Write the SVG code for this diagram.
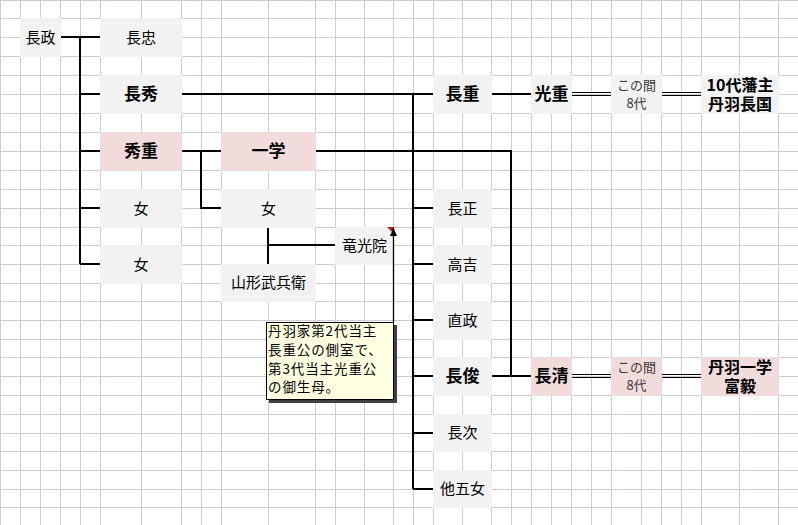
<svg xmlns="http://www.w3.org/2000/svg" width="798" height="525" viewBox="0 0 798 525">
<defs>
<style>
.grid{stroke:#cbced6;stroke-width:1;fill:none}
.box{fill:#f2f2f2}
.pink{fill:#f2dcdb}
.t{font-family:"Noto Sans CJK JP","Noto Sans CJK SC",sans-serif;font-size:15px;fill:#000;text-anchor:middle}
.b{font-family:"Noto Sans CJK JP","Noto Sans CJK SC",sans-serif;font-size:17px;font-weight:bold;fill:#000;text-anchor:middle}
.b2{font-family:"Noto Sans CJK JP","Noto Sans CJK SC",sans-serif;font-size:16px;font-weight:bold;fill:#000;text-anchor:middle}
.s{font-family:"Noto Sans CJK JP","Noto Sans CJK SC",sans-serif;font-size:13px;fill:#3a3a3a;text-anchor:middle}
.n{font-family:"Noto Sans CJK JP","Noto Sans CJK SC",sans-serif;font-size:13.5px;letter-spacing:0.9px;fill:#000}
.c{stroke:#000;stroke-width:2;fill:none}
.d{stroke:#000;stroke-width:1;fill:none}
</style>
<marker id="ah" viewBox="0 0 8 8" refX="8" refY="4" markerWidth="8" markerHeight="8" markerUnits="userSpaceOnUse" orient="auto">
<path d="M0,0.5 L8,4 L0,7.5 Z" fill="#000"/>
</marker>
</defs>
<rect x="0" y="0" width="798" height="525" fill="#fff"/>
<path class="grid" d="M0.5 0V525M20.5 0V525M40.5 0V525M60.5 0V525M80.5 0V525M100.5 0V525M141.5 0V525M181.5 0V525M201.5 0V525M221.5 0V525M268.5 0V525M315.5 0V525M335.5 0V525M364.5 0V525M393.5 0V525M413.5 0V525M433.5 0V525M462.5 0V525M491.5 0V525M511.5 0V525M531.5 0V525M551.5 0V525M571.5 0V525M591.5 0V525M611.5 0V525M641.5 0V525M661.5 0V525M681.5 0V525M701.5 0V525M739.5 0V525M778.5 0V525
M0 0.5H798M0 18.5H798M0 37.5H798M0 56.5H798M0 75.5H798M0 94.5H798M0 113.5H798M0 132.5H798M0 151.5H798M0 170.5H798M0 189.5H798M0 208.5H798M0 227.5H798M0 245.5H798M0 264.5H798M0 283.5H798M0 301.5H798M0 320.5H798M0 339.5H798M0 357.5H798M0 376.5H798M0 395.5H798M0 414.5H798M0 433.5H798M0 451.5H798M0 470.5H798M0 489.5H798M0 507.5H798"/>

<g id="connectors">
<path class="c" d="M60 37H100M80 37V264M80 94H100M80 151H100M80 208H100M80 264H100"/>
<path class="c" d="M181 94H433M413 94V489M413 208H433M413 264H433M413 320H433M413 376H433M413 433H433M413 489H433"/>
<path class="c" d="M181 151H221M201 151V208H221"/>
<path class="c" d="M315 151H511V376M491 376H531"/>
<path class="c" d="M491 94H531"/>
<path class="c" d="M268 227V264M268 245H335"/>
<path class="d" d="M571 92.5H611M571 95.5H611M661 92.5H701M661 95.5H701"/>
<path class="d" d="M571 374.5H611M571 377.5H611M661 374.5H701M661 377.5H701"/>
</g>

<g id="n-nagamasa"><rect class="box" x="20" y="18" width="41" height="39"/><text class="t" x="40.5" y="42.5">長政</text></g>
<g id="n-nagatada"><rect class="box" x="100" y="18" width="82" height="39"/><text class="t" x="141" y="42.5">長忠</text></g>
<g id="n-nagahide"><rect class="box" x="100" y="75" width="82" height="39"/><text class="b" x="141" y="100">長秀</text></g>
<g id="n-hideshige"><rect class="pink" x="100" y="132" width="82" height="39"/><text class="b" x="141" y="157">秀重</text></g>
<g id="n-onna1"><rect class="box" x="100" y="189" width="82" height="39"/><text class="t" x="141" y="213.5">女</text></g>
<g id="n-onna2"><rect class="box" x="100" y="245" width="82" height="39"/><text class="t" x="141" y="269.5">女</text></g>
<g id="n-ichigaku"><rect class="pink" x="221" y="132" width="95" height="39"/><text class="b" x="268.5" y="157">一学</text></g>
<g id="n-onna3"><rect class="box" x="221" y="189" width="95" height="39"/><text class="t" x="268.5" y="213.5">女</text></g>
<g id="n-yamagata"><rect class="box" x="221" y="264" width="95" height="38"/><text class="t" x="268.5" y="288">山形武兵衛</text></g>
<g id="n-ryukoin"><rect class="box" x="335" y="227" width="59" height="38"/><text class="t" x="364.5" y="251">竜光院</text></g>
<g id="n-nagashige"><rect class="box" x="433" y="75" width="59" height="39"/><text class="b" x="462.5" y="100">長重</text></g>
<g id="n-mitsushige"><rect class="box" x="531" y="75" width="41" height="39"/><text class="b" x="551.5" y="100">光重</text></g>
<g id="n-gap1"><rect class="box" x="611" y="75" width="51" height="39"/><text class="s" x="636.5" y="89.5">この間<tspan x="636.5" dy="18">8代</tspan></text></g>
<g id="n-nagakuni"><rect class="box" x="701" y="75" width="78" height="39"/><text class="b2" x="740" y="90.5">10代藩主<tspan x="740" dy="19">丹羽長国</tspan></text></g>
<g id="n-nagamasa2"><rect class="box" x="433" y="189" width="59" height="39"/><text class="t" x="462.5" y="213.5">長正</text></g>
<g id="n-takayoshi"><rect class="box" x="433" y="245" width="59" height="39"/><text class="t" x="462.5" y="269.5">高吉</text></g>
<g id="n-naomasa"><rect class="box" x="433" y="301" width="59" height="39"/><text class="t" x="462.5" y="325.5">直政</text></g>
<g id="n-nagatoshi"><rect class="box" x="433" y="357" width="59" height="39"/><text class="b" x="462.5" y="382">長俊</text></g>
<g id="n-nagatsugu"><rect class="box" x="433" y="414" width="59" height="38"/><text class="t" x="462.5" y="438">長次</text></g>
<g id="n-others"><rect class="box" x="433" y="470" width="59" height="38"/><text class="t" x="462.5" y="494">他五女</text></g>
<g id="n-nagakiyo"><rect class="pink" x="531" y="357" width="41" height="39"/><text class="b" x="551.5" y="382">長清</text></g>
<g id="n-gap2"><rect class="pink" x="611" y="357" width="51" height="39"/><text class="s" x="636.5" y="372">この間<tspan x="636.5" dy="17.5">8代</tspan></text></g>
<g id="n-tomotake"><rect class="pink" x="701" y="357" width="78" height="39"/><text class="b2" x="740" y="372.5">丹羽一学<tspan x="740" dy="19">富毅</tspan></text></g>

<g id="note">
<polygon points="387,227 394,227 394,234" fill="#b0202a"/>
<path d="M393.5 322V228" stroke="#000" stroke-width="1.3" fill="none" marker-end="url(#ah)"/>
<rect x="269" y="325" width="128" height="78" fill="#404040"/>
<rect x="266.5" y="322.5" width="127" height="77" fill="#ffffe1" stroke="#000" stroke-width="1"/>
<text class="n" x="268" y="336">丹羽家第2代当主<tspan x="268" dy="19">長重公の側室で、</tspan><tspan x="268" dy="18.5">第3代当主光重公</tspan><tspan x="268" dy="18.5">の御生母。</tspan></text>
</g>
</svg>
